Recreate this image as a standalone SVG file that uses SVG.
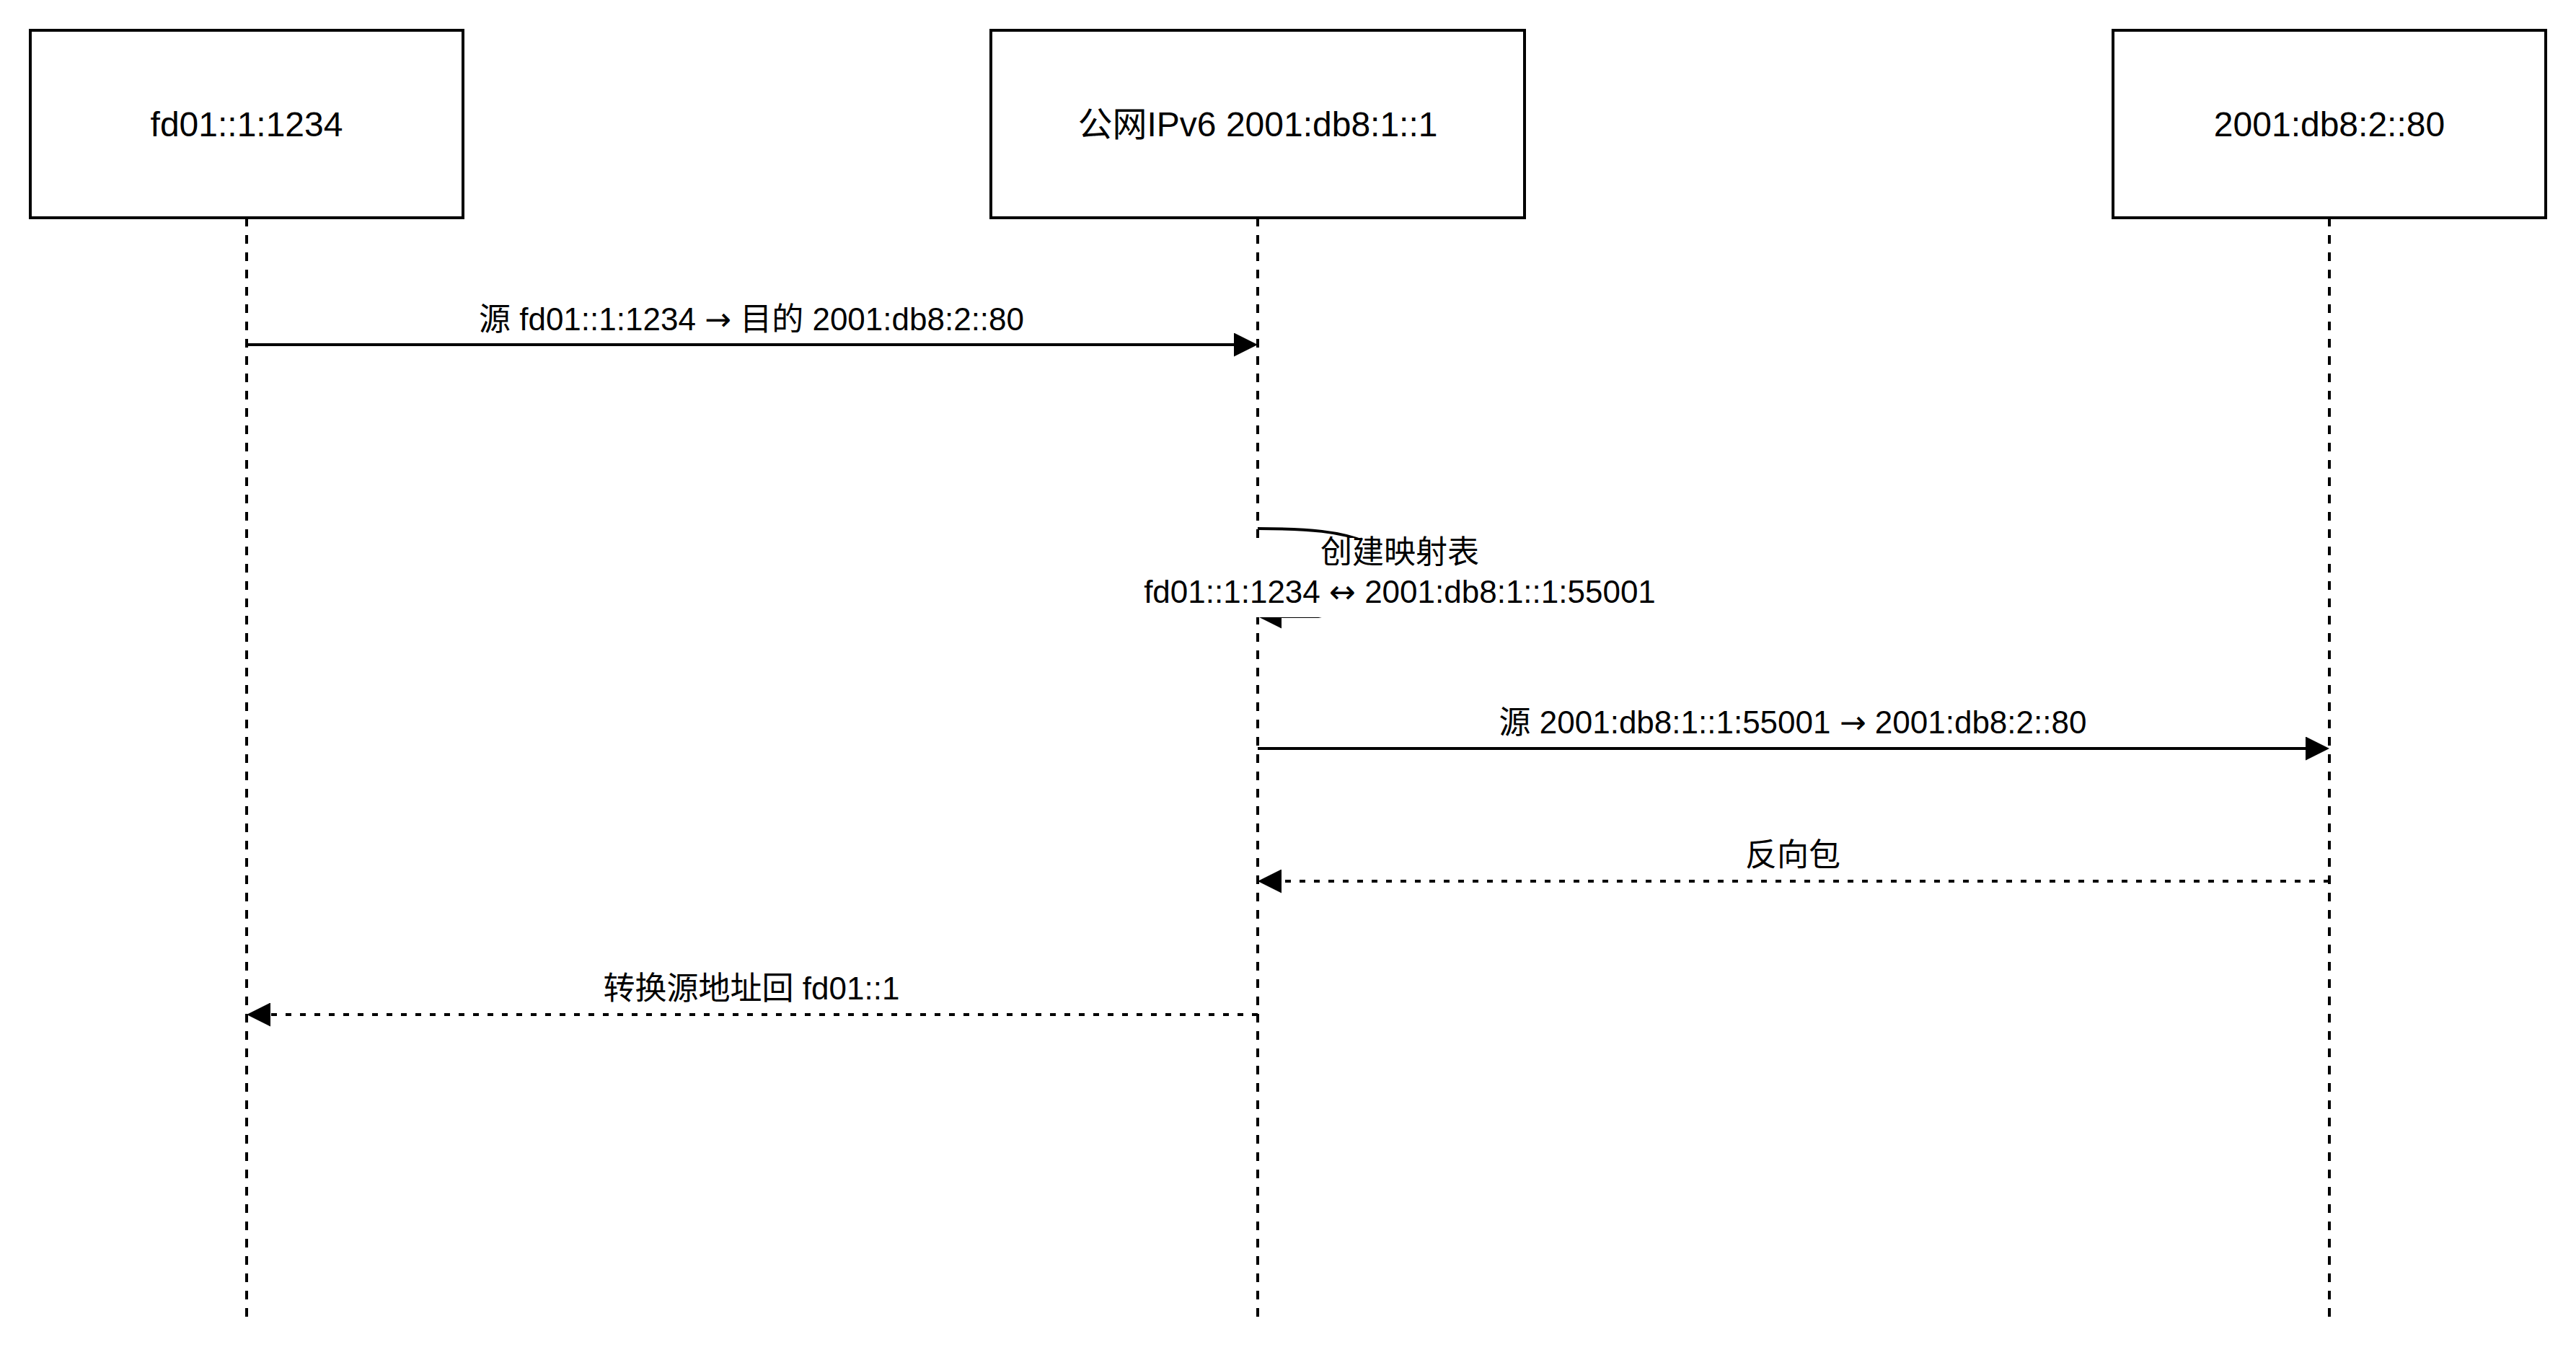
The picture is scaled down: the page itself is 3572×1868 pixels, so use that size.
<svg xmlns="http://www.w3.org/2000/svg" width="3572" height="1868" viewBox="0 0 3572 1868">
  <defs>
    <style>
      .box { fill: #ffffff; stroke: #000000; stroke-width: 4; }
      .life { fill: none; stroke: #000000; stroke-width: 4; stroke-dasharray: 12 12; }
      .msg { fill: none; stroke: #000000; stroke-width: 4; }
      .ret { fill: none; stroke: #000000; stroke-width: 4; stroke-dasharray: 8 12; }
      .title { font-family: "Liberation Sans", Arial, "Noto Sans CJK SC", sans-serif; font-size: 48px; fill: #000000; text-anchor: middle; }
      .lbl { font-family: "Liberation Sans", Arial, "Noto Sans CJK SC", sans-serif; font-size: 44px; fill: #000000; text-anchor: middle; }
      .ar { font-family: "DejaVu Sans", sans-serif; }
    </style>
    <marker id="arr" markerUnits="userSpaceOnUse" markerWidth="33" markerHeight="33" viewBox="0 0 33 33" refX="25" refY="16.5" orient="auto">
      <path d="M0,0 L33,16.5 L0,33 Z" fill="#000000"/>
    </marker>
  </defs>
  <rect x="0" y="0" width="3572" height="1868" fill="#ffffff"/>

  <g id="lifelines">
    <line class="life" x1="342" y1="302" x2="342" y2="1826"/>
    <line class="life" x1="1744" y1="302" x2="1744" y2="1826"/>
    <line class="life" x1="3230" y1="302" x2="3230" y2="1826"/>
  </g>

  <g id="node-client">
    <rect class="box" x="42" y="42" width="600" height="260"/>
    <text class="title" x="342" y="189">fd01::1:1234</text>
  </g>
  <g id="node-gateway">
    <rect class="box" x="1374" y="42" width="740" height="260"/>
    <text class="title" x="1744" y="189">公网IPv6 2001:db8:1::1</text>
  </g>
  <g id="node-server">
    <rect class="box" x="2930" y="42" width="600" height="260"/>
    <text class="title" x="3230" y="189">2001:db8:2::80</text>
  </g>

  <g id="connectors">
    <g id="msg1">
      <line class="msg" x1="342" y1="478" x2="1736" y2="478" marker-end="url(#arr)"/>
      <text class="lbl" x="1042" y="458">源 fd01::1:1234 <tspan class="ar">→</tspan> 目的 2001:db8:2::80</text>
    </g>
    <g id="msg-self">
      <path class="msg" d="M1744,733 C1815,733 1860,737 1895,752 C2000,790 1860,850 1828,855 L1752,855" marker-end="url(#arr)"/>
      <rect x="1586" y="746" width="710" height="110" fill="#ffffff"/>
      <text class="lbl" x="1941" y="781">创建映射表</text>
      <text class="lbl" x="1941" y="836">fd01::1:1234 <tspan class="ar">↔</tspan> 2001:db8:1::1:55001</text>
    </g>
    <g id="msg2">
      <line class="msg" x1="1744" y1="1038" x2="3222" y2="1038" marker-end="url(#arr)"/>
      <text class="lbl" x="2486" y="1017">源 2001:db8:1::1:55001 <tspan class="ar">→</tspan> 2001:db8:2::80</text>
    </g>
    <g id="msg3">
      <line class="ret" x1="3230" y1="1222" x2="1752" y2="1222" marker-end="url(#arr)"/>
      <text class="lbl" x="2486" y="1201">反向包</text>
    </g>
    <g id="msg4">
      <line class="ret" x1="1744" y1="1407" x2="350" y2="1407" marker-end="url(#arr)"/>
      <text class="lbl" x="1042" y="1386">转换源地址回 fd01::1</text>
    </g>
  </g>
</svg>
